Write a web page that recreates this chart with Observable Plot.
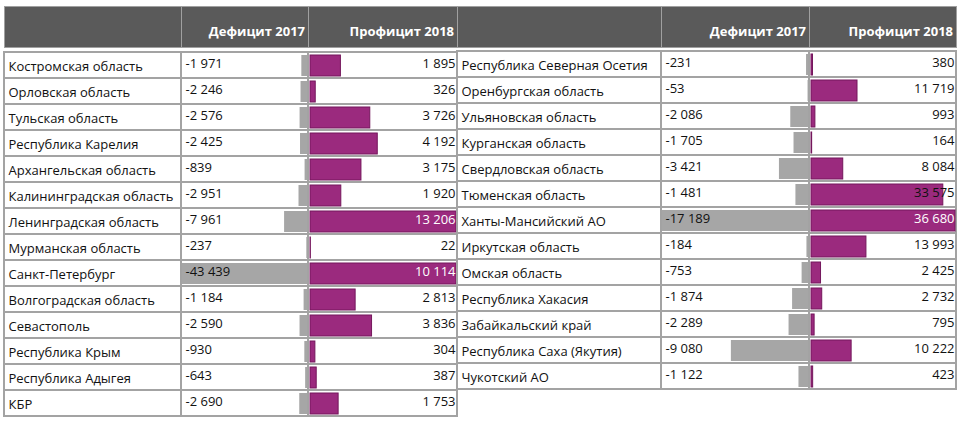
<!DOCTYPE html>
<html><head><meta charset="utf-8">
<script src="https://cdn.jsdelivr.net/npm/d3@7"></script>
<script src="https://cdn.jsdelivr.net/npm/@observablehq/plot@0.6"></script>
<style>
body{margin:0;background:#fff;}
#chart{position:relative;width:960px;height:424px;overflow:hidden;font-family:"Open Sans","Noto Sans",sans-serif;}
.hdr{position:absolute;top:6px;height:42px;background:#5a5a5a;color:#fff;font-weight:700;font-size:13px;box-sizing:border-box;text-align:right;padding:15px 3px 0 0;border:1px solid #a0a0a0;white-space:nowrap;}
svg{position:absolute;top:0;}
</style></head><body><div id="chart"></div>
<script>
const leftNames = ["Костромская область","Орловская область","Тульская область","Республика Карелия","Архангельская область","Калининградская область","Ленинградская область","Мурманская область","Санкт-Петербург","Волгоградская область","Севастополь","Республика Крым","Республика Адыгея","КБР"];
const leftDeficit = [-1971,-2246,-2576,-2425,-839,-2951,-7961,-237,-43439,-1184,-2590,-930,-643,-2690];
const leftSurplus = [1895,326,3726,4192,3175,1920,13206,22,10114,2813,3836,304,387,1753];
const rightNames = ["Республика Северная Осетия","Оренбургская область","Ульяновская область","Курганская область","Свердловская область","Тюменская область","Ханты-Мансийский АО","Иркутская область","Омская область","Республика Хакасия","Забайкальский край","Республика Саха (Якутия)","Чукотский АО"];
const rightDeficit = [-231,-53,-2086,-1705,-3421,-1481,-17189,-184,-753,-1874,-2289,-9080,-1122];
const rightSurplus = [380,11719,993,164,8084,33575,36680,13993,2425,2732,795,10222,423];
const headers = ["", "Дефицит 2017", "Профицит 2018"];

const fmt = d3.formatLocale({thousands:"\u00a0", grouping:[3], decimal:",", currency:["",""], minus:"-"}).format(",d");
const chart = document.getElementById("chart");
const rowH = 26.5, top0 = 48;
const FONT = '"Open Sans","Noto Sans",sans-serif';
const GRID = "#a3a3a3";

function rowsOf(names, def, sur) {
  return names.map((name, i) => ({i, name, def: def[i], sur: sur[i]}));
}

function column(rows, kind, x0, x1, opts = {}) {
  const w = x1 - x0 + 2;
  const n = rows.length;
  const marks = [
    Plot.cell(rows, {y: "i", fill: "white", stroke: GRID, strokeWidth: 2, insetLeft: 1, insetRight: 1})
  ];
  let x;
  if (kind === "name") {
    marks.push(Plot.text(rows, {y: "i", text: "name", frameAnchor: "left", dx: 5, dy: 1, fill: "#111"}));
  } else if (kind === "def") {
    x = {domain: [0, opts.max], range: [w - 2, 2], clamp: true};
    marks.push(Plot.barX(rows, {x: d => Math.abs(d.def), y: "i", fill: "#a6a6a6", insetTop: 3, insetBottom: 2}));
    marks.push(Plot.text(rows, {y: "i", text: d => fmt(d.def), frameAnchor: "left", dx: 5, dy: -2, fill: "#111"}));
  } else {
    x = {domain: [0, opts.max], range: [3, w - 2], clamp: true};
    marks.push(Plot.barX(rows, {x: "sur", y: "i", fill: "#9b2a7e", stroke: "#74175c", strokeWidth: 1, insetTop: 3, insetBottom: 2}));
    marks.push(Plot.text(rows, {y: "i", text: d => fmt(d.sur), frameAnchor: "right", dx: -3, dy: -2,
      fill: d => d.sur >= opts.max ? "#ffffff" : "#111"}));
  }
  const p = Plot.plot({
    width: w, height: 424, margin: 0,
    x: x ? {...x, axis: null} : undefined,
    y: {type: "band", domain: d3.range(n), range: [top0, top0 + n * rowH], padding: 0, axis: null},
    style: {fontFamily: FONT, fontSize: "13px", background: "transparent", overflow: "visible"},
    marks
  });
  p.style.left = (x0 - 1) + "px";
  chart.appendChild(p);
}

function header(text, x0, x1) {
  const d = document.createElement("div");
  d.className = "hdr";
  d.style.left = x0 + "px";
  d.style.width = (x1 - x0 + 1) + "px";
  d.textContent = text;
  chart.appendChild(d);
}

const L = rowsOf(leftNames, leftDeficit, leftSurplus);
const R = rowsOf(rightNames, rightDeficit, rightSurplus);

// left panel
column(L, "name", 4, 181);
column(L, "def", 181, 308, {max: d3.max(leftDeficit, v => Math.abs(v))});
column(L, "sur", 308, 457, {max: 9100});
// right panel
column(R, "name", 457, 661);
column(R, "def", 661, 809, {max: d3.max(rightDeficit, v => Math.abs(v))});
column(R, "sur", 809, 956, {max: d3.max(rightSurplus)});

const cols = [[4,181],[181,308],[308,457],[457,661],[661,809],[809,956]];
cols.forEach(([a,b], k) => header(headers[k % 3], a, b));
</script></body></html>
